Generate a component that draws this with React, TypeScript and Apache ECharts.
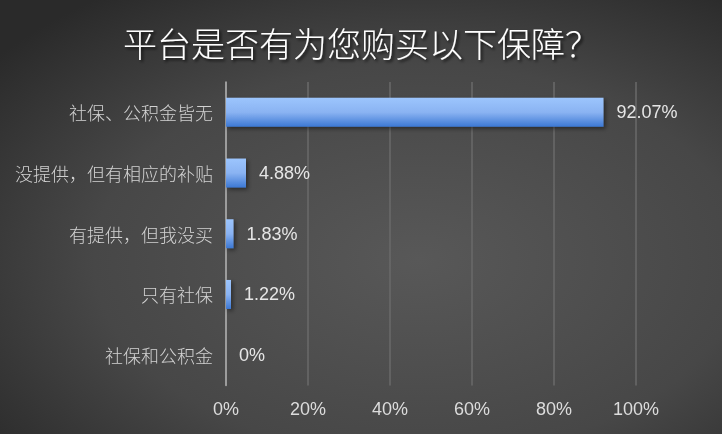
import React, { useEffect, useRef } from "react";
import * as echarts from "echarts";

const categories = ["社保、公积金皆无", "没提供，但有相应的补贴", "有提供，但我没买", "只有社保", "社保和公积金"];
const values = [92.07, 4.88, 1.83, 1.22, 0];
const titleText = "平台是否有为您购买以下保障？";

export default function App() {
  const ref = useRef<HTMLDivElement>(null);
  useEffect(() => {
    if (!ref.current) return;
    const chart = echarts.init(ref.current, undefined, { renderer: "svg" });
    chart.setOption({
      animation: false,
      backgroundColor: {
        type: "radial",
        x: 0.58,
        y: 0.6,
        r: 0.75,
        colorStops: [
          { offset: 0, color: "#585858" },
          { offset: 0.6, color: "#474747" },
          { offset: 1, color: "#2a2a2a" },
        ],
      },
      title: {
        text: titleText,
        left: "center",
        top: 20,
        textStyle: {
          color: "#ffffff",
          fontSize: 34,
          fontWeight: 300,
          fontFamily: "Noto Sans CJK SC",
          textShadowColor: "rgba(0,0,0,0.7)",
          textShadowBlur: 3,
          textShadowOffsetX: 2,
          textShadowOffsetY: 2,
        },
      },
      grid: { left: 226, right: 86, top: 82, bottom: 48.5, containLabel: false },
      xAxis: {
        type: "value",
        min: 0,
        max: 100,
        interval: 20,
        axisLine: { show: false },
        axisTick: { show: false },
        splitLine: { show: true, lineStyle: { color: "#6a6a6a", width: 1.5 } },
        axisLabel: {
          formatter: "{value}%",
          color: "#dcdcdc",
          fontSize: 18,
          fontFamily: "Liberation Sans",
          margin: 14,
        },
      },
      yAxis: {
        type: "category",
        inverse: true,
        data: categories,
        axisLine: { show: true, lineStyle: { color: "#b0b0b0", width: 1.5 } },
        axisTick: { show: false },
        axisLabel: {
          color: "#d2d2d2",
          fontSize: 18,
          fontWeight: 300,
          fontFamily: "Noto Sans CJK SC",
          margin: 13,
        },
      },
      series: [
        {
          type: "bar",
          data: values,
          barWidth: 29,
          itemStyle: {
            color: {
              type: "linear",
              x: 0,
              y: 0,
              x2: 0,
              y2: 1,
              colorStops: [
                { offset: 0, color: "#9cc5fd" },
                { offset: 0.5, color: "#8ab3f2" },
                { offset: 1, color: "#3c78d4" },
              ],
            },
            shadowColor: "rgba(0,0,0,0.45)",
            shadowBlur: 4,
            shadowOffsetX: 2,
            shadowOffsetY: 2,
          },
          label: {
            show: true,
            position: "right",
            distance: 13,
            formatter: "{c}%",
            color: "#e6e6e6",
            fontSize: 18,
            fontFamily: "Liberation Sans",
          },
        },
      ],
    });
    return () => chart.dispose();
  }, []);
  return <div ref={ref} style={{ position: "fixed", left: 0, top: 0, width: 722, height: 434 }} />;
}
